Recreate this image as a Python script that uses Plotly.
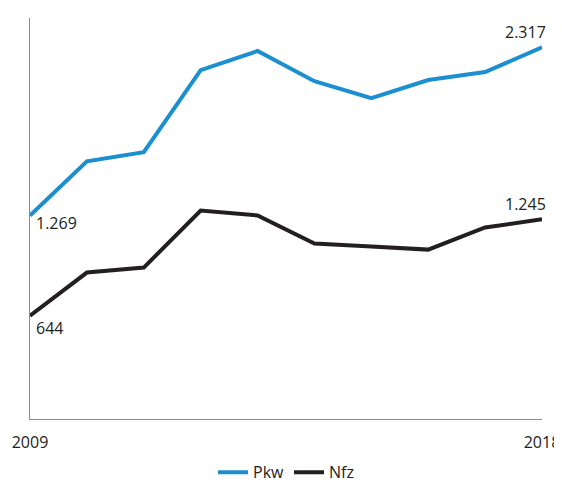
import plotly.graph_objects as go

years = [2009, 2010, 2011, 2012, 2013, 2014, 2015, 2016, 2017, 2018]
pkw = [1269, 1606, 1663, 2175, 2294, 2106, 2000, 2113, 2163, 2317]
nfz = [644, 913, 944, 1300, 1269, 1094, 1075, 1056, 1194, 1245]
tick_years = [2009, 2018]
tick_text = ["2009", "2018"]
labels_pkw = {2009: "1.269", 2018: "2.317"}
labels_nfz = {2009: "644", 2018: "1.245"}

blue = "#1b8fd0"
dark = "#231f20"

fig = go.Figure()
fig.add_trace(go.Scatter(x=years, y=pkw, mode="lines", name="Pkw",
                         line=dict(color=blue, width=4)))
fig.add_trace(go.Scatter(x=years, y=nfz, mode="lines", name="Nfz",
                         line=dict(color=dark, width=4)))

font = dict(family="Open Sans, Liberation Sans, sans-serif", size=16, color="#222222")

def add_labels(series, labels, low_shift):
    for yr, txt in labels.items():
        v = series[years.index(yr)]
        if yr == years[0]:
            fig.add_annotation(x=yr, y=v, text=txt, showarrow=False, xanchor="left",
                               yanchor="top", xshift=4, yshift=low_shift, font=font)
        else:
            fig.add_annotation(x=yr, y=v, text=txt, showarrow=False, xanchor="right",
                               yanchor="bottom", xshift=6, yshift=2, font=font)

add_labels(pkw, labels_pkw, 5)
add_labels(nfz, labels_nfz, 1)

fig.update_layout(
    width=554, height=486,
    margin=dict(l=22, r=20, t=10, b=75, autoexpand=False),
    paper_bgcolor="white", plot_bgcolor="white",
    font=font,
    showlegend=True,
    legend=dict(orientation="h", x=0.5, xanchor="center", y=-0.133, yanchor="middle",
                font=dict(size=16), tracegroupgap=0),
    xaxis=dict(range=[2009, 2018], showgrid=False, zeroline=False, automargin=False,
               showline=True, linecolor="#8c8c8c", linewidth=1,
               tickvals=tick_years, ticktext=tick_text, ticks="",
               ticklabelstandoff=9, tickfont=font),
    yaxis=dict(range=[0, 2500], showgrid=False, zeroline=False, automargin=False,
               showline=True, linecolor="#8c8c8c", linewidth=1,
               showticklabels=False, ticks=""),
)
fig.update_traces(cliponaxis=False)

fig.write_html("out.html")
